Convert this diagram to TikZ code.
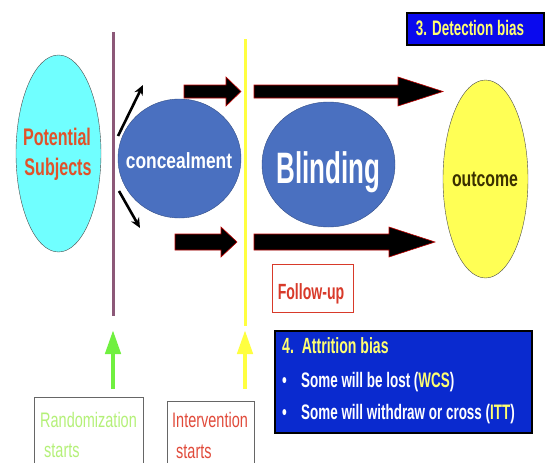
\documentclass[tikz,border=0pt]{standalone}
\usepackage{fontspec}
\setmainfont{Liberation Sans}
\newfontfamily\nfa[FakeStretch=0.64]{Liberation Sans}
\newfontfamily\nfb[FakeStretch=0.67]{Liberation Sans}
\newfontfamily\nfc[FakeStretch=0.72]{Liberation Sans}
\newfontfamily\nfd[FakeStretch=0.79]{Liberation Sans}
\newfontfamily\nfe[FakeStretch=0.59]{Liberation Sans}
\newfontfamily\nff[FakeStretch=0.69]{Liberation Sans}
\usetikzlibrary{shapes.geometric,arrows.meta}
\definecolor{cyanfill}{HTML}{70FFFF}
\definecolor{ellblue}{HTML}{4A70C0}
\definecolor{outyellow}{HTML}{FFFF55}
\definecolor{potred}{HTML}{E0522A}
\definecolor{outbrown}{HTML}{3A3000}
\definecolor{purpline}{HTML}{8C5878}
\definecolor{yelline}{HTML}{FFFF40}
\definecolor{greenarr}{HTML}{70F040}
\definecolor{detblue}{HTML}{0A0AEE}
\definecolor{attblue}{HTML}{0A2ACF}
\definecolor{txtyellow}{HTML}{FFFF70}
\definecolor{randgreen}{HTML}{B4F078}
\definecolor{intred}{HTML}{E04A3A}
\definecolor{fured}{HTML}{D83A2A}
\tikzset{
  ell/.style={ellipse, draw=black!70, thin, inner sep=0pt},
  lbl/.style={inner sep=0pt, anchor=base},
  bigarrow/.style={fill=black, draw=red!75!black, line width=0.6pt},
  smallarrow/.style={-{Stealth[length=10pt,width=9pt]}, line width=2.6pt, black},
  upbig/.style={line width=4.5pt, -{Triangle[length=24pt,width=15pt]}},
  lft/.style={anchor=base west, inner sep=0pt},
}
\begin{document}
\begin{tikzpicture}[x=1pt,y=-1pt]
\useasboundingbox (0,0) rectangle (547,463);
\clip (0,0) rectangle (547,463);
% lines
\coordinate (pt) at (113,32);
\coordinate (pb) at (113,316);
\draw[purpline, line width=3pt] (pt) -- (pb);
\coordinate (yt) at (245,39);
\coordinate (yb) at (245,326);
\draw[yelline, line width=3pt] (yt) -- (yb);
% ellipses
\node[ell, fill=cyanfill, minimum width=85pt, minimum height=197pt] (pot) at (58.5,153.5) {};
\node[ell, fill=ellblue, draw=ellblue!70!black, minimum width=123pt, minimum height=119pt] (conc) at (179.5,158.5) {};
\node[ell, fill=ellblue, draw=ellblue!70!black, minimum width=133pt, minimum height=125pt] (blind) at (328.5,164.5) {};
\node[ell, fill=outyellow, minimum width=85pt, minimum height=198pt] (out) at (485.5,179) {};
% ellipse texts
\node[lbl, text=potred, font=\nfb\bfseries\fontsize{24}{28}\selectfont] (potA) at (57,145) {Potential};
\node[lbl, text=potred, font=\nfb\bfseries\fontsize{24}{28}\selectfont] (potB) at (58,175) {Subjects};
\node[lbl, text=white, font=\nfd\bfseries\fontsize{22}{26}\selectfont] (concT) at (179,168) {concealment};
\node[lbl, text=white, font=\nfe\bfseries\fontsize{44}{50}\selectfont] (blindT) at (328.5,183.5) {Blinding};
\node[lbl, text=outbrown, font=\nfc\bfseries\fontsize{22}{26}\selectfont] (outT) at (485,186) {outcome};
% small arrows
\coordinate (s1a) at (118,136); \coordinate (s1b) at (143,85);
\coordinate (s2a) at (119,191); \coordinate (s2b) at (140,228);
\draw[smallarrow] (s1a) -- (s1b);
\draw[smallarrow] (s2a) -- (s2b);
% big arrows
\draw[bigarrow] (184,85) -- (226,85) -- (226,77) -- (241,91.5) -- (226,106) -- (226,98) -- (184,98) -- cycle;
\draw[bigarrow] (254,85) -- (398,85) -- (398,77) -- (443,91.5) -- (398,106) -- (398,98) -- (254,98) -- cycle;
\draw[bigarrow] (175,234) -- (221,234) -- (221,227) -- (237,242) -- (221,257) -- (221,250) -- (175,250) -- cycle;
\draw[bigarrow] (254,234) -- (389,234) -- (389,227) -- (435,242) -- (389,257) -- (389,250) -- (254,250) -- cycle;
% follow-up
\node[draw=fured, line width=1pt, minimum width=81pt, minimum height=48pt, inner sep=0pt] (fu) at (312.5,288) {};
\node[lbl, text=fured, font=\nfa\bfseries\fontsize{22}{26}\selectfont] (fuT) at (311,299.5) {Follow-up};
% detection bias
\node[draw=black, line width=1.8pt, fill=detblue, minimum width=137pt, minimum height=32pt, inner sep=0pt] (det) at (475.5,29) {};
\node[lbl, text=txtyellow, font=\nfa\bfseries\fontsize{21}{25}\selectfont] (detT) at (470,35) {3. Detection bias};
% bottom arrows
\coordinate (ga) at (113,389); \coordinate (gb) at (113,330);
\draw[greenarr, upbig] (ga) -- (gb);
\coordinate (ya) at (245,389); \coordinate (yb2) at (245,330);
\draw[yelline, upbig] (ya) -- (yb2);
% bottom boxes
\draw[black!60, line width=1pt] (34,480) -- (34,397) -- (143,397) -- (143,480);
\node[lft, text=randgreen, font=\nff\fontsize{21}{25}\selectfont] (r1) at (40,427) {Randomization};
\node[lft, text=randgreen, font=\nff\fontsize{21}{25}\selectfont] (r2) at (44,457) {starts};
\draw[black!60, line width=1pt] (167,480) -- (167,401) -- (254,401) -- (254,480);
\node[lft, text=intred, font=\nff\fontsize{21}{25}\selectfont] (i1) at (172,427) {Intervention};
\node[lft, text=intred, font=\nff\fontsize{21}{25}\selectfont] (i2) at (176,458) {starts};
% attrition
\draw[black, line width=2pt, fill=attblue] (275,331) rectangle (532,433);
\node[lft, text=txtyellow, font=\nfa\bfseries\fontsize{22}{26}\selectfont] (a0) at (282,353) {4.\ \ Attrition bias};
\node[lft, text=white, font=\nfa\bfseries\fontsize{21}{25}\selectfont] (b1) at (282,387) {•};
\node[lft, text=white, font=\nfa\bfseries\fontsize{21}{25}\selectfont] (a1) at (301,387) {Some will be lost (\textcolor{txtyellow}{WCS})};
\node[lft, text=white, font=\nfa\bfseries\fontsize{21}{25}\selectfont] (b2) at (282,419) {•};
\node[lft, text=white, font=\nfa\bfseries\fontsize{21}{25}\selectfont] (a2) at (301,419) {Some will withdraw or cross (\textcolor{txtyellow}{ITT})};
\end{tikzpicture}
\end{document}
